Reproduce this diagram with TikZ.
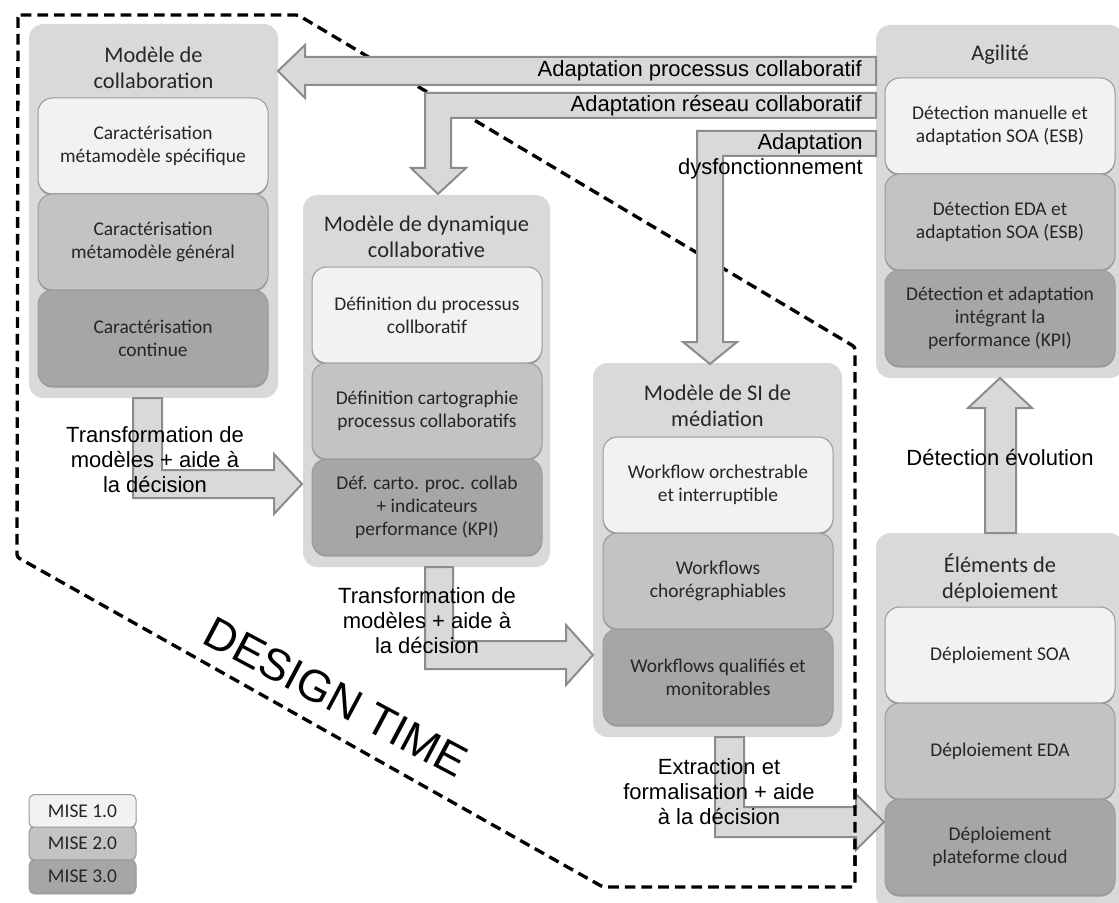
\documentclass[tikz,border=0pt]{standalone}
\usepackage{fontspec}
\setmainfont{Carlito}
\newfontfamily\arialf{Liberation Sans}
\usetikzlibrary{shadows}
\definecolor{outerg}{HTML}{D9D9D9}
\definecolor{lvone}{HTML}{F2F2F2}
\definecolor{lvtwo}{HTML}{C3C3C3}
\definecolor{lvthree}{HTML}{A6A6A6}
\definecolor{arrfill}{HTML}{D9D9D9}
\definecolor{arrline}{HTML}{8C8C8C}
\definecolor{boxline}{HTML}{9A9A9A}
\definecolor{txt}{HTML}{262626}
\begin{document}
\begin{tikzpicture}[x=0.75pt,y=-0.75pt,
  outerbox/.style={fill=outerg, rounded corners=11pt, inner sep=0pt},
  innerbox/.style={draw=boxline, line width=0.75pt, rounded corners=11pt,
    minimum width=172.5pt, minimum height=72pt, inner sep=2pt, align=center,
    text=txt, font=\fontsize{14.6}{17.3}\selectfont,
    drop shadow={shadow xshift=0pt, shadow yshift=-1.2pt, opacity=0.3, fill=black}},
  boxtitle/.style={align=center, text=txt, font=\fontsize{16.8}{19.2}\selectfont, inner sep=0pt},
  blockarrow/.style={fill=arrfill, draw=arrline, line width=1.5pt, line join=miter},
  lbl/.style={align=center, text=black, font=\arialf\fontsize{16.5}{18.75}\selectfont, inner sep=0pt},
  legendbox/.style={draw=boxline, line width=0.75pt, rounded corners=4pt,
    minimum width=80.25pt, minimum height=24.75pt, inner sep=0pt, text=txt,
    font=\fontsize{14.6}{17}\selectfont,
    drop shadow={shadow xshift=0pt, shadow yshift=-1.2pt, opacity=0.3, fill=black}},
  dashline/.style={draw=black, line width=2.5pt, dash pattern=on 8pt off 4.5pt, rounded corners=2pt}
]
\useasboundingbox (0,0) rectangle (1119,902);
\clip (0,0) rectangle (1119,902);
\fill[white] (0,0) rectangle (1119,902);

% design time boundary
\draw[dashline] (18,15) -- (298,15) -- (855,347) -- (855,887) -- (603,887) -- (17,557) -- cycle;

% ---- Box 1
\node[outerbox, minimum width=186.75pt, minimum height=280.5pt] (m1) at (153.5,211) {};
\node[boxtitle] (m1t) at (153.5,68) {Modèle de\\collaboration};
\node[innerbox, fill=lvone] (m1a) at (153,146) {Caractérisation\\métamodèle spécifique};
\node[innerbox, fill=lvtwo] (m1b) at (153,242) {Caractérisation\\métamodèle général};
\node[innerbox, fill=lvthree] (m1c) at (153,338) {Caractérisation\\continue};

% ---- Box 2
\node[outerbox, minimum width=185.25pt, minimum height=279pt] (m2) at (426.5,381) {};
\node[boxtitle] (m2t) at (426.5,237) {Modèle de dynamique\\collaborative};
\node[innerbox, fill=lvone] (m2a) at (427,315) {Définition du processus\\collboratif};
\node[innerbox, fill=lvtwo] (m2b) at (427,411) {Définition cartographie\\processus collaboratifs};
\node[innerbox, fill=lvthree] (m2c) at (427,507) {Déf. carto. proc. collab\\+ indicateurs\\performance (KPI)};

% ---- Box 3
\node[outerbox, minimum width=186.75pt, minimum height=280.5pt] (m3) at (717.5,550) {};
\node[boxtitle] (m3t) at (717.5,406) {Modèle de SI de\\médiation};
\node[innerbox, fill=lvone] (m3a) at (718,485) {Workflow orchestrable\\et interruptible};
\node[innerbox, fill=lvtwo] (m3b) at (718,581) {Workflows\\chorégraphiables};
\node[innerbox, fill=lvthree] (m3c) at (718,677) {Workflows qualifiés et\\monitorables};

% ---- Box 4
\node[outerbox, minimum width=186pt, minimum height=264.75pt] (m4) at (1000,201.5) {};
\node[boxtitle] (m4t) at (1000,55) {Agilité};
\node[innerbox, fill=lvone] (m4a) at (1000,126) {Détection manuelle et\\adaptation SOA (ESB)};
\node[innerbox, fill=lvtwo] (m4b) at (1000,222) {Détection EDA et\\adaptation SOA (ESB)};
\node[innerbox, fill=lvthree] (m4c) at (1000,318) {Détection et adaptation\\intégrant la\\performance (KPI)};

% ---- Box 5
\node[outerbox, minimum width=186pt, minimum height=282.75pt] (m5) at (1000,721.5) {};
\node[boxtitle] (m5t) at (1000,578) {Éléments de\\déploiement};
\node[innerbox, fill=lvone] (m5a) at (1000,655) {Déploiement SOA};
\node[innerbox, fill=lvtwo] (m5b) at (1000,751) {Déploiement EDA};
\node[innerbox, fill=lvthree] (m5c) at (1000,847) {Déploiement\\plateforme cloud};

% ---- block arrows
% Adaptation processus collaboratif: m4 -> m1
\draw[blockarrow] (876,57) -- (305,57) -- (305,45) -- (278,71) -- (305,98) -- (305,85) -- (876,85) -- cycle;
% Adaptation reseau collaboratif: m4 -> m2
\draw[blockarrow] (876,93) -- (425,93) -- (425,168) -- (411,168) -- (438,194) -- (466,168) -- (451,168) -- (451,118) -- (876,118) -- cycle;
% Adaptation dysfonctionnement: m4 -> m3
\draw[blockarrow] (876,131) -- (697,131) -- (697,342) -- (683,342) -- (710,364) -- (737,342) -- (723,342) -- (723,156) -- (876,156) -- cycle;
% Transformation 1: m1 -> m2
\draw[blockarrow] (133,398) -- (162,398) -- (162,470) -- (274,470) -- (274,454) -- (302,484) -- (274,514) -- (274,498) -- (133,498) -- cycle;
% Transformation 2: m2 -> m3
\draw[blockarrow] (425,567) -- (453,567) -- (453,641) -- (566,641) -- (566,625) -- (593,655) -- (566,685) -- (566,669) -- (425,669) -- cycle;
% Extraction: m3 -> m5
\draw[blockarrow] (715,737) -- (744,737) -- (744,807) -- (856,807) -- (856,794) -- (884,822) -- (856,850) -- (856,837) -- (715,837) -- cycle;
% Detection evolution: m5 -> m4
\draw[blockarrow] (985,533) -- (985,408) -- (968,408) -- (1000,378) -- (1032,408) -- (1016,408) -- (1016,533) -- cycle;

% dashed line drawn over the extraction arrow
\begin{scope}
\clip (835,775) rectangle (875,865);
\draw[dashline] (18,15) -- (298,15) -- (855,347) -- (855,887) -- (603,887) -- (17,557) -- cycle;
\end{scope}

% ---- labels
\node[lbl, anchor=east] (l1) at (862,71) {Adaptation processus collaboratif};
\node[lbl, anchor=east] (l2) at (862,106) {Adaptation réseau collaboratif};
\node[lbl, anchor=east, align=right] (l3) at (863,156) {Adaptation\\dysfonctionnement};
\node[lbl] (l4) at (155,460) {Transformation de\\modèles + aide à\\la décision};
\node[lbl] (l5) at (427,621) {Transformation de\\modèles + aide à\\la décision};
\node[lbl] (l6) at (719,792) {Extraction et\\formalisation + aide\\à la décision};
\node[lbl] (l7) at (1000,458) {Détection évolution};

% ---- design time
\node[rotate=-28, font=\arialf\fontsize{33.5}{36}\selectfont, inner sep=0pt] (dt) at (336,697) {DESIGN TIME};

% ---- legend
\node[legendbox, fill=lvone] (g1) at (82.5,811) {MISE 1.0};
\node[legendbox, fill=lvtwo] (g2) at (82.5,843.5) {MISE 2.0};
\node[legendbox, fill=lvthree] (g3) at (82.5,876.5) {MISE 3.0};
\end{tikzpicture}
\end{document}
